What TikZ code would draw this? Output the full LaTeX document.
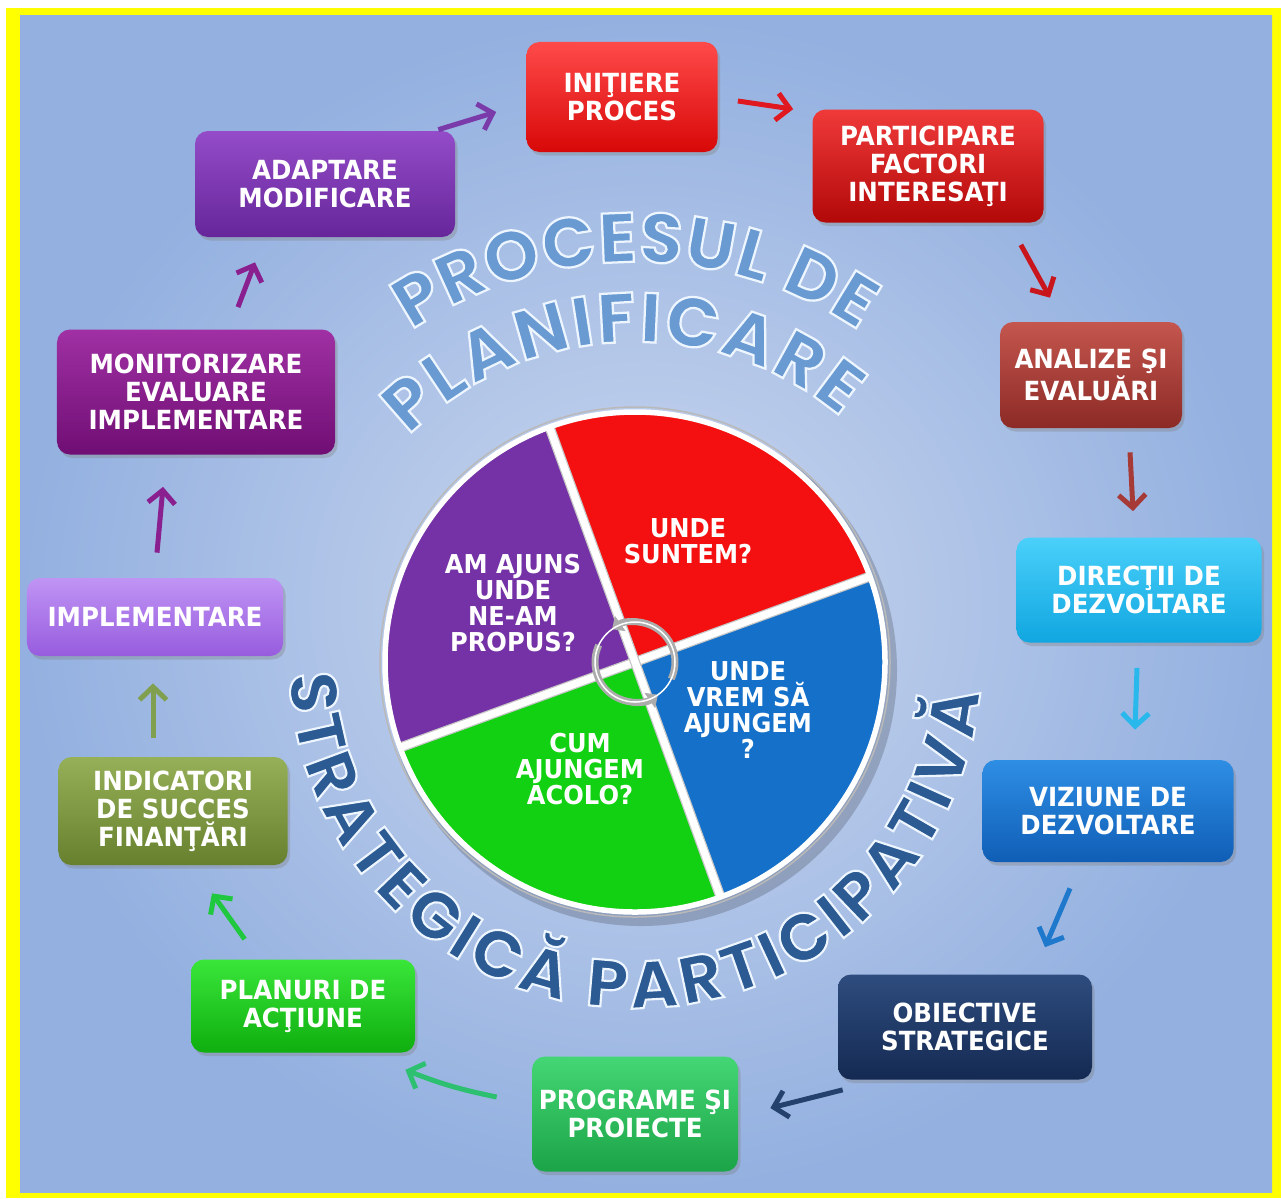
\documentclass[tikz,border=0pt]{standalone}
\usepackage{fontspec}
\usetikzlibrary{arrows.meta,shadows,decorations.text}

\newfontfamily\boxfont[FakeStretch=0.93]{DejaVu Sans}
\newfontfamily\piefont[FakeStretch=0.93]{DejaVu Sans}
\newfontfamily\arcfont[FakeBold=3.2]{Poppins}
% light outline round the letters of the titles
\newcommand\arcrim{\special{pdf:literal direct 0.93 0.96 1 RG}}

\definecolor{bgdark}{HTML}{93B0E0}
\definecolor{bglight}{HTML}{CCD8EF}
\definecolor{frameyellow}{HTML}{FFFF00}
\definecolor{topblue}{HTML}{6A9AD2}
\definecolor{lowblue}{HTML}{2C5A92}
\definecolor{piered}{HTML}{F41010}
\definecolor{piepurple}{HTML}{7432A6}
\definecolor{piegreen}{HTML}{12D012}
\definecolor{pieblue}{HTML}{1470C8}
% box colours, top and bottom
\definecolor{inittop}{HTML}{FF4A4A}\definecolor{initbot}{HTML}{D80808}
\definecolor{parttop}{HTML}{F03A3A}\definecolor{partbot}{HTML}{B20808}
\definecolor{analtop}{HTML}{C4564E}\definecolor{analbot}{HTML}{8C2A26}
\definecolor{dirtop}{HTML}{4AD0FA}\definecolor{dirbot}{HTML}{10A6E0}
\definecolor{viztop}{HTML}{2E8EE4}\definecolor{vizbot}{HTML}{105EB6}
\definecolor{objtop}{HTML}{2E4C7E}\definecolor{objbot}{HTML}{142A52}
\definecolor{progtop}{HTML}{44D674}\definecolor{progbot}{HTML}{1CA448}
\definecolor{plantop}{HTML}{3AE63A}\definecolor{planbot}{HTML}{0EAE0E}
\definecolor{indtop}{HTML}{96B058}\definecolor{indbot}{HTML}{66802E}
\definecolor{impltop}{HTML}{C094F4}\definecolor{implbot}{HTML}{975CDE}
\definecolor{montop}{HTML}{A030A4}\definecolor{monbot}{HTML}{700E74}
\definecolor{adapttop}{HTML}{944CC8}\definecolor{adaptbot}{HTML}{66269A}
% arrow colours
\definecolor{arradapt}{HTML}{7A3AAA}
\definecolor{arrinit}{HTML}{E01820}
\definecolor{arrpart}{HTML}{C8161C}
\definecolor{arranal}{HTML}{A63A36}
\definecolor{arrdir}{HTML}{28B8EC}
\definecolor{arrviz}{HTML}{1E78CC}
\definecolor{arrobj}{HTML}{24406C}
\definecolor{arrprog}{HTML}{2CC070}
\definecolor{arrplan}{HTML}{20C840}
\definecolor{arrind}{HTML}{80A050}
\definecolor{arrmon}{HTML}{8A2090}

\begin{document}
\begin{tikzpicture}[x=0.2mm,y=-0.2mm,
	>={Straight Barb[length=2.6mm,width=5.4mm]},
	step node/.style 2 args = {rectangle, rounded corners=2.6mm, top color=#1, bottom color=#2,
		text=white, align=center, font=\boxfont\bfseries\fontsize{15}{15.9}\selectfont,
		drop shadow={shadow xshift=0.5mm, shadow yshift=-0.7mm, opacity=0.35}},
	pie text/.style = {text=white, align=center, font=\piefont\bfseries\fontsize{14.8}{14.9}\selectfont},
	flow/.style = {->, line width=1mm},
	title/.style n args = {3}{postaction={decorate, decoration={text along path, text align=fit to path, text color=#1,
		text={|\arcfont\bfseries\fontsize{#2}{48}\selectfont\arcrim|#3}}}}]
	
	\useasboundingbox (0,0) rectangle (1281,1198);
	\fill[white] (0,0) rectangle (1281,1198);
	\fill[frameyellow] (6,8) rectangle (1281,1198);
	\shade[inner color=bglight, outer color=bgdark] (20,15) rectangle (1272,1192);
	
	% title along the arcs
	\path[title={topblue}{40}{PROCESUL DE}] (635,662) ++(-124:400) arc[start angle=-124, end angle=-56, radius=400];
	\path[title={topblue}{40}{PLANIFICARE}] (635,662) ++(-135:320) arc[start angle=-135, end angle=-50, radius=320];
	\path[title={lowblue}{38}{STRATEGICĂ PARTICIPATIVĂ}] (635,662) ++(-182:346) arc[start angle=-182, end angle=-355, radius=346];
	
	% the wheel
	\coordinate (c) at (635,662);
	\fill[black, opacity=0.18] (641,670) circle (256);
	\fill[piered] (c) -- ++(-20:250) arc[start angle=-20, end angle=-110, radius=250] -- cycle;
	\fill[piepurple] (c) -- ++(-110:250) arc[start angle=-110, end angle=-200, radius=250] -- cycle;
	\fill[piegreen] (c) -- ++(-200:250) arc[start angle=-200, end angle=-290, radius=250] -- cycle;
	\fill[pieblue] (c) -- ++(-290:250) arc[start angle=-290, end angle=-380, radius=250] -- cycle;
	\draw[gray!45, line width=0.25mm, double=white, double distance=1.5mm] (c) +(-20:250) -- +(-200:250);
	\draw[gray!45, line width=0.25mm, double=white, double distance=1.5mm] (c) +(-110:250) -- +(-290:250);
	\draw[white, line width=1.1mm] (c) circle (250);
	\draw[gray!55, line width=0.3mm] (c) circle (255);
	\draw[gray!65, line width=1.4mm, -{Triangle[length=2mm,width=3.6mm]}] (c) ++(25:40) arc[start angle=25, end angle=-125, radius=40];
	\draw[gray!65, line width=1.4mm, -{Triangle[length=2mm,width=3.6mm]}] (c) ++(-155:40) arc[start angle=-155, end angle=-305, radius=40];
	\draw[white, line width=0.3mm] (c) circle (40);
	
	\node[pie text] at (688,541) (13) {UNDE\\SUNTEM?};
	\node[pie text] at (513,603) (14) {AM AJUNS\\UNDE\\NE-AM\\PROPUS?};
	\node[pie text] at (748,710) (15) {UNDE\\VREM SĂ\\AJUNGEM\\?};
	\node[pie text] at (580,769) (16) {CUM\\AJUNGEM\\ACOLO?};
	
	% the twelve steps
	\node[step node={inittop}{initbot}, minimum width=38.2mm, minimum height=22mm] at (622,97) (1) {INIŢIERE\\PROCES};
	\node[step node={parttop}{partbot}, minimum width=46.2mm, minimum height=22.6mm] at (928,166) (2) {PARTICIPARE\\FACTORI\\INTERESAŢI};
	\node[step node={analtop}{analbot}, minimum width=36.4mm, minimum height=21.2mm] at (1091,375) (3) {ANALIZE ŞI\\EVALUĂRI};
	\node[step node={dirtop}{dirbot}, minimum width=49mm, minimum height=21mm] at (1139,590) (4) {DIRECŢII DE\\DEZVOLTARE};
	\node[step node={viztop}{vizbot}, minimum width=50.2mm, minimum height=20.4mm] at (1108,811) (5) {VIZIUNE DE\\DEZVOLTARE};
	\node[step node={objtop}{objbot}, minimum width=50.8mm, minimum height=21mm] at (965,1027) (6) {OBIECTIVE\\STRATEGICE};
	\node[step node={progtop}{progbot}, minimum width=41.2mm, minimum height=23mm] at (635,1114) (7) {PROGRAME ŞI\\PROIECTE};
	\node[step node={plantop}{planbot}, minimum width=44.8mm, minimum height=18.6mm] at (303,1006) (8) {PLANURI DE\\ACŢIUNE};
	\node[step node={indtop}{indbot}, minimum width=45.8mm, minimum height=21.6mm] at (173,811) (9) {INDICATORI\\DE SUCCES\\FINANŢĂRI};
	\node[step node={impltop}{implbot}, minimum width=51.2mm, minimum height=15.6mm] at (155,617) (10) {IMPLEMENTARE};
	\node[step node={montop}{monbot}, minimum width=55.6mm, minimum height=25mm] at (196,392) (11) {MONITORIZARE\\EVALUARE\\IMPLEMENTARE};
	\node[step node={adapttop}{adaptbot}, minimum width=52mm, minimum height=21.2mm] at (325,184) (12) {ADAPTARE\\MODIFICARE};
	
	\path[flow]
	([shift={(-17,-1)}]12.north east) edge[arradapt] ([shift={(-30,15)}]1.west)
	([shift={(20,4)}]1.east) edge[arrinit] ([shift={(-19,0)}]2.north west)
	([shift={(-23,22)}]2.south east) edge[arrpart] ([shift={(-41,-24)}]3.north)
	([shift={(39,24)}]3.south) edge[arranal] ([shift={(-6,-26)}]4.north)
	([shift={(-2,25)}]4.south) edge[arrdir] ([shift={(27,-30)}]5.north)
	([shift={(-38,26)}]5.south) edge[arrviz] ([shift={(80,-27)}]6.north)
	([shift={(5,10)}]6.south west) edge[arrobj] ([shift={(32,-6)}]7.east)
	([shift={(-35,-17)}]7.west) edge[arrprog, bend left=5] ([shift={(-10,17)}]8.south east)
	([shift={(54,-20)}]8.north west) edge[arrplan] ([shift={(39,28)}]9.south)
	([shift={(-20,-19)}]9.north) edge[arrind] ([shift={(-2,27)}]10.south)
	([shift={(2,-25)}]10.north) edge[arrmon] ([shift={(-33,32)}]11.south)
	([shift={(42,-22)}]11.north) edge[arrmon] ([shift={(-70,25)}]12.south);
\end{tikzpicture}
\end{document}
